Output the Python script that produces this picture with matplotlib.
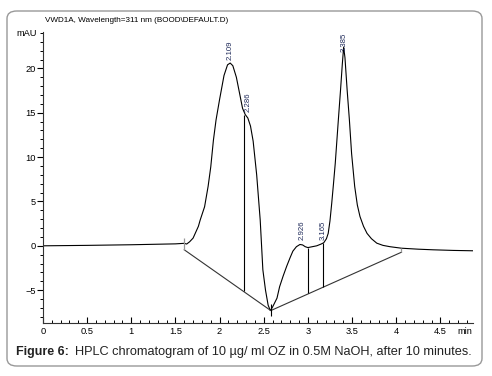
import numpy as np
import matplotlib
matplotlib.use("Agg")
import matplotlib.pyplot as plt
from matplotlib.patches import FancyBboxPatch
from matplotlib.ticker import MultipleLocator

plt.rcParams['font.family'] = ['Liberation Sans', 'DejaVu Sans']

# Detector trace (time in min, signal in mAU)
trace_t = [0.0, 0.5, 1.0, 1.5, 1.6, 1.627, 1.66, 1.70, 1.76, 1.78, 1.80, 1.83,
           1.87, 1.90, 1.93, 1.96, 2.0, 2.05, 2.09, 2.12, 2.15, 2.19, 2.23, 2.26,
           2.29, 2.32, 2.35, 2.38, 2.42, 2.46, 2.49, 2.52, 2.55, 2.575, 2.60, 2.63,
           2.65, 2.68, 2.72, 2.76, 2.80, 2.83, 2.87, 2.91, 2.94, 2.97, 3.0, 3.05,
           3.1, 3.15, 3.18, 3.21, 3.23, 3.25, 3.27, 3.29, 3.31, 3.345, 3.37, 3.39,
           3.405, 3.42, 3.445, 3.47, 3.495, 3.53, 3.56, 3.59, 3.63, 3.67, 3.72,
           3.78, 3.85, 3.93, 4.06, 4.25, 4.42, 4.65, 4.87]
trace_mau = [0.0, 0.05, 0.12, 0.22, 0.28, 0.2, 0.45, 0.87, 2.2, 2.9, 3.5, 4.4,
             6.7, 8.9, 11.9, 14.2, 16.5, 19.2, 20.4, 20.6, 20.3, 19.0, 17.0, 15.5,
             14.8, 14.4, 13.5, 11.8, 8.0, 2.9, -2.7, -5.0, -6.7, -7.3, -6.9, -6.3,
             -5.9, -4.6, -3.4, -2.3, -1.3, -0.6, -0.1, 0.15, 0.1, -0.1, -0.2, -0.1,
             0.0, 0.2, 0.35, 0.8, 1.4, 2.8, 4.8, 7.0, 9.3, 14.2, 17.6, 20.5,
             22.4, 21.2, 17.5, 14.2, 10.4, 6.7, 4.6, 3.3, 2.2, 1.4, 0.8,
             0.3, 0.05, -0.1, -0.27, -0.38, -0.45, -0.52, -0.56]

# Integration baseline
base_t = [1.6, 2.58, 4.06]
base_mau = [-0.45, -7.3, -0.72]

# Drop lines between peaks
drop_t = [2.28, 2.58, 3.0, 3.17]
drop_top = [14.7, -6.6, -0.2, 0.35]
drop_bottom = [-5.1, -7.9, -5.36, -4.6]

# Baseline start / end markers
mark_t = [1.6, 4.06]
mark_top = [0.9, -0.2]
mark_bottom = [-0.45, -0.72]

# Retention time labels
peak_rt = ["2.109", "2.286", "2.926", "3.165", "3.385"]
peak_x = [2.118, 2.32, 2.93, 3.17, 3.41]
peak_y = [20.9, 15.1, 0.7, 0.6, 21.9]

fig = plt.figure(figsize=(4.92, 3.76), dpi=100)
ax = fig.add_axes([43 / 492, 53 / 376, 430 / 492, 291 / 376])

ax.plot(trace_t, trace_mau, color='black', lw=0.8)
ax.plot(base_t, base_mau, color='#333333', lw=0.8)
ax.vlines(drop_t, drop_bottom, drop_top, color='black', lw=0.8)
ax.vlines(mark_t, mark_bottom, mark_top, color='#999999', lw=0.9)

for lab, x, y in zip(peak_rt, peak_x, peak_y):
    ax.text(x, y, lab, rotation=90, ha='center', va='bottom',
            fontsize=5.6, color='#1f2a5a')

ax.set_xlim(0, 4.87)
ax.set_ylim(-8.7, 24.1)
ax.xaxis.set_minor_locator(MultipleLocator(0.1))
ax.yaxis.set_major_locator(MultipleLocator(5))
ax.yaxis.set_minor_locator(MultipleLocator(1))
ax.set_xticks([0, 0.5, 1, 1.5, 2, 2.5, 3, 3.5, 4, 4.5])
ax.set_xticklabels(["0", "0.5", "1", "1.5", "2", "2.5", "3", "3.5", "4", "4.5"])
ax.tick_params(axis='x', which='major', direction='in', length=4, width=0.8,
               labelsize=6.7, pad=3)
ax.tick_params(axis='x', which='minor', direction='in', length=2, width=0.7)
ax.tick_params(axis='y', which='major', direction='out', length=4, width=0.8,
               labelsize=6.7, pad=1)
ax.tick_params(axis='y', which='minor', direction='out', length=2, width=0.7)
for s in ['top', 'right']:
    ax.spines[s].set_visible(False)
for s in ['left', 'bottom']:
    ax.spines[s].set_color('#333333')
    ax.spines[s].set_linewidth(0.8)

fig.text(45 / 492, 1 - 20 / 376, "VWD1A, Wavelength=311 nm (BOOD\\DEFAULT.D)",
         fontsize=5.85, va='center', ha='left')
fig.text(27 / 492, 1 - 34 / 376, "mAU", fontsize=6.7, va='center', ha='center')
fig.text(465 / 492, 1 - 331 / 376, "min", fontsize=6.7, va='center', ha='center')

# Caption with bold lead
cap_y = 1 - 352.5 / 376
fig.text(16 / 492, cap_y, "Figure 6:", fontsize=9.0, fontweight='bold',
         va='center', ha='left', color='#222222')
fig.text(75 / 492, cap_y,
         "HPLC chromatogram of 10 \u00b5g/ ml OZ in 0.5M NaOH, after 10 minutes.",
         fontsize=9.15, va='center', ha='left', color='#222222')

box = FancyBboxPatch((7 / 492, 10 / 376), 475 / 492, 355 / 376,
                     boxstyle="round,pad=0,rounding_size=0.02",
                     transform=fig.transFigure, facecolor='none',
                     edgecolor='#999999', lw=1.0)
fig.patches.append(box)

fig.savefig("out.png", dpi=100)
